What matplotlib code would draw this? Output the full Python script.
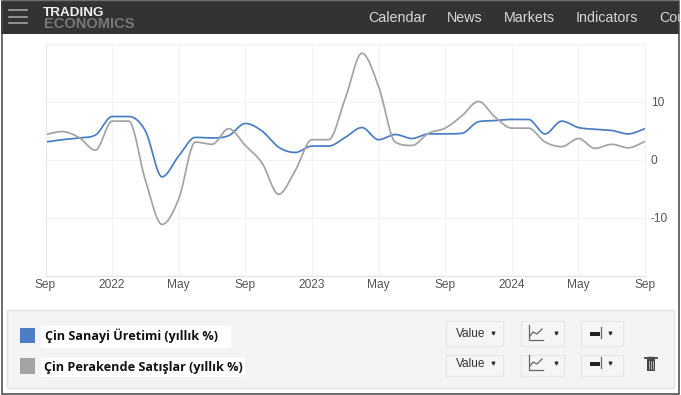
import matplotlib
matplotlib.use("Agg")
import matplotlib.pyplot as plt
from matplotlib.patches import Rectangle
import numpy as np

plt.rcParams["font.family"] = ["Liberation Sans", "DejaVu Sans"]
plt.rcParams["axes.unicode_minus"] = False

# monthly values, Sep 2021 .. Sep 2024
industry = [3.1, 3.5, 3.8, 4.3, 7.5, 7.5, 5.0, -2.9, 0.7, 3.9, 3.8, 4.2, 6.3, 5.0, 2.2, 1.3, 2.4, 2.4,
            3.9, 5.6, 3.5, 4.4, 3.7, 4.5, 4.5, 4.6, 6.6, 6.8, 7.0, 7.0, 4.5, 6.7, 5.6, 5.3, 5.1, 4.5, 5.4]
retail = [4.4, 4.9, 3.9, 1.7, 6.7, 6.7, -3.5, -11.1, -6.7, 3.1, 2.7, 5.4, 2.5, -0.5, -5.9, -1.8, 3.5, 3.5,
          10.6, 18.4, 12.7, 3.1, 2.5, 4.6, 5.5, 7.6, 10.1, 7.4, 5.5, 5.5, 3.1, 2.3, 3.7, 2.0, 2.7, 2.1, 3.2]
x_ticks = [0, 4, 8, 12, 16, 20, 24, 28, 32, 36]
x_labels = ["Sep", "2022", "May", "Sep", "2023", "May", "Sep", "2024", "May", "Sep"]
y_ticks = [-10, 0, 10]
nav_items = ["Calendar", "News", "Markets", "Indicators", "Cou"]
nav_pos = [368, 447, 504, 576, 659]
legend_names = ["Çin Sanayi Üretimi (yıllık %)", "Çin Perakende Satışlar (yıllık %)"]

W, H = 681, 395
BLUE = "#4a7dc2"
GREY = "#a3a3a3"


def smooth(y, n=20):
    # monotone cubic through the monthly points, same look as the site's spline
    y = np.array(y, dtype=float)
    d = np.diff(y)
    m = np.zeros(len(y))
    for i in range(1, len(y) - 1):
        if d[i - 1] * d[i] > 0:
            m[i] = np.sign(d[i]) * min(3 * abs(d[i - 1]), 3 * abs(d[i]), 0.5 * abs(d[i - 1] + d[i]))
    m[0], m[-1] = d[0], d[-1]
    xs, ys = [], []
    for i in range(len(y) - 1):
        t = np.linspace(0, 1, n, endpoint=False)
        h00 = 2 * t**3 - 3 * t**2 + 1
        h10 = t**3 - 2 * t**2 + t
        h01 = -2 * t**3 + 3 * t**2
        h11 = t**3 - t**2
        xs.extend(i + t)
        ys.extend(h00 * y[i] + h10 * m[i] + h01 * y[i + 1] + h11 * m[i + 1])
    xs.append(len(y) - 1)
    ys.append(y[-1])
    return xs, ys


fig = plt.figure(figsize=(W / 100, H / 100), dpi=100, facecolor="white")

# page furniture in pixel coordinates
bg = fig.add_axes([0, 0, 1, 1])
bg.set_xlim(0, W)
bg.set_ylim(H, 0)
bg.axis("off")

bg.add_patch(Rectangle((1, 1), 678, 33, fc="#333333", ec="none"))
for y in [10, 17, 23]:
    bg.plot([9, 27], [y, y], color="#9a9a9a", lw=1.3)
bg.text(43, 12.5, "TRADING", color="#f0f0f0", fontsize=9.7, fontweight="bold", va="center")
bg.text(44, 24, "ECONOMICS", color="#777777", fontsize=10.5, fontweight="bold", va="center")
for name, px in zip(nav_items, nav_pos):
    bg.text(px, 18.5, name, color="#d8d8d8", fontsize=10.3, va="center", clip_on=True)

bg.add_patch(Rectangle((1.5, 1), 677.5, 392.5, fc="none", ec="#444444", lw=1.1))

bg.add_patch(Rectangle((7, 310), 667, 78, fc="#f4f4f4", ec="#e4e4e4", lw=1))
bg.add_patch(Rectangle((41, 326), 190, 22, fc="white", ec="none"))
bg.add_patch(Rectangle((41, 358), 204, 19, fc="white", ec="none"))
bg.add_patch(Rectangle((20, 328), 15, 15, fc=BLUE, ec="none"))
bg.add_patch(Rectangle((20, 358), 15, 16, fc=GREY, ec="none"))
bg.text(45, 335.5, legend_names[0], family="Open Sans", fontweight="bold", fontsize=9.1, color="#111111", va="center")
bg.text(44, 367, legend_names[1], family="Open Sans", fontweight="bold", fontsize=9.1, color="#111111", va="center")

rows = [(321, 25, 333), (355, 21, 363)]
for top, h, mid in rows:
    for left, w in [(446, 56.5), (521, 43), (581, 41.5)]:
        bg.add_patch(Rectangle((left, top), w, h, fc="#f5f5f5", ec="#e8e8e8", lw=1))
    bg.text(455.5, mid + 0.8, "Value", fontsize=8.6, color="#333333", va="center")
    for cx in [493, 555.5, 610]:
        bg.plot(cx, mid - 0.5, marker="v", ms=2, color="#333333", ls="none")
    # line chart icon
    bg.plot([528.5, 528.5, 543], [mid - 8, mid + 7, mid + 7], color="#666666", lw=0.9)
    bg.plot([530, 533, 537, 542], [mid + 3, mid - 1, mid + 1, mid - 4], color="#666666", lw=0.9)
    # axis icon
    bg.add_patch(Rectangle((590, mid - 1), 10, 3.5, fc="#222222", ec="none"))
    bg.plot([600.5, 600.5], [mid - 6, mid + 5], color="#666666", lw=0.9)

# bin icon
bg.add_patch(Rectangle((646.5, 359), 8.5, 11.5, fc="#444444", ec="none"))
bg.plot([645, 656.5], [358, 358], color="#444444", lw=1.3)
bg.plot([648, 653], [356.5, 356.5], color="#444444", lw=1)
for px in [648.8, 650.8, 652.8]:
    bg.plot([px, px], [361, 369], color="#dddddd", lw=0.5)

# the chart itself
ax = fig.add_axes([45.5 / W, 1 - 276 / H, 599.5 / W, 232 / H])
ax.patch.set_alpha(0)
ax.set_xlim(0, 36)
ax.set_ylim(-20, 20)
ax.set_xticks(x_ticks)
ax.set_xticklabels(x_labels)
ax.set_yticks(y_ticks)
ax.set_yticks([-20, 20], minor=True)
ax.yaxis.tick_right()
ax.tick_params(axis="both", which="both", length=0, labelsize=8.6, labelcolor="#555555")
ax.tick_params(axis="x", pad=2)
ax.tick_params(axis="y", pad=4)
ax.grid(True, which="both", color="#f3f3f3", lw=0.8)
ax.set_axisbelow(True)
for side in ["top", "right"]:
    ax.spines[side].set_color("#f3f3f3")
    ax.spines[side].set_linewidth(0.8)
ax.spines["left"].set_color("#e8e8e8")
ax.spines["bottom"].set_color("#e4e4e4")
ax.spines["bottom"].set_linewidth(1.0)

xs, ys = smooth(industry)
ax.plot(xs, ys, color=BLUE, lw=1.25)
xs, ys = smooth(retail)
ax.plot(xs, ys, color=GREY, lw=1.25)

fig.savefig("out.png", dpi=100)
